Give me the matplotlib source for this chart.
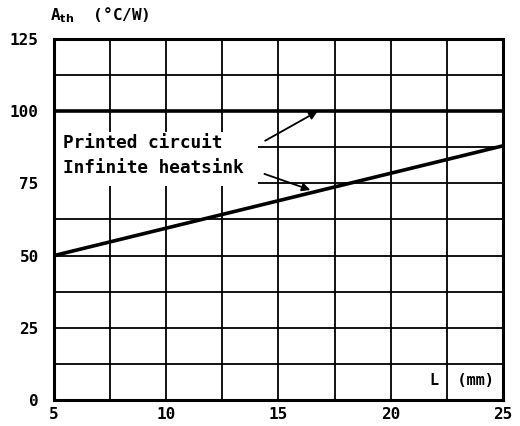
import matplotlib.pyplot as plt
import numpy as np
from matplotlib.patches import Rectangle

# data
length_mm = [5, 25]
printed_circuit = [100, 100]
infinite_heatsink = [50, 88]
x_ticks = [5, 10, 15, 20, 25]
y_ticks = [0, 25, 50, 75, 100, 125]

font = {"family": "DejaVu Sans Mono", "weight": "bold"}

fig = plt.figure(figsize=(5.2, 4.26), dpi=100)
ax = fig.add_axes([0.1038, 0.061, 0.8632, 0.8475])

ax.set_xlim(5, 25)
ax.set_ylim(0, 125)
ax.set_xticks(x_ticks)
ax.set_yticks(y_ticks)
ax.set_xticks(np.arange(5, 25.1, 2.5), minor=True)
ax.set_yticks(np.arange(0, 125.1, 12.5), minor=True)
ax.grid(which="both", color="black", linewidth=1.3, zorder=1)
ax.set_axisbelow(True)
ax.tick_params(which="both", length=0)
ax.tick_params(axis="y", pad=11)
ax.tick_params(axis="x", pad=5)
for lab in ax.get_xticklabels() + ax.get_yticklabels():
    lab.set_fontfamily(font["family"])
    lab.set_fontweight("bold")
    lab.set_fontsize(11.5)
for s in ax.spines.values():
    s.set_linewidth(2.2)

# white area behind the labels, the grid is left out there
ax.add_patch(Rectangle((5.1, 74.0), 9.0, 18.8, facecolor="white",
                       edgecolor="none", zorder=1.5))

ax.plot(length_mm, printed_circuit, color="black", linewidth=2.6,
        solid_capstyle="butt", zorder=2)
ax.plot(length_mm, infinite_heatsink, color="black", linewidth=2.6,
        solid_capstyle="butt", zorder=2)

# labels with arrows
ax.text(5.4, 89, "Printed circuit", fontsize=12.8, va="center", zorder=3, **font)
ax.text(5.4, 80.3, "Infinite heatsink", fontsize=12.8, va="center", zorder=3, **font)
arrow = dict(arrowstyle="-|>", color="black", lw=1.3, mutation_scale=12)
ax.annotate("", xy=(16.85, 100.4), xytext=(14.3, 89.3), arrowprops=arrow)
ax.annotate("", xy=(16.54, 72.4), xytext=(14.26, 78.6), arrowprops=arrow)

ax.text(21.75, 6.6, "L  (mm)", fontsize=11, va="center", **font)
fig.text(50 / 520, 1 - 15 / 426, "A$_{\\mathbf{th}}$  (°C/W)", fontsize=11.5,
         va="center", **font)

fig.savefig("out.png", dpi=100)
